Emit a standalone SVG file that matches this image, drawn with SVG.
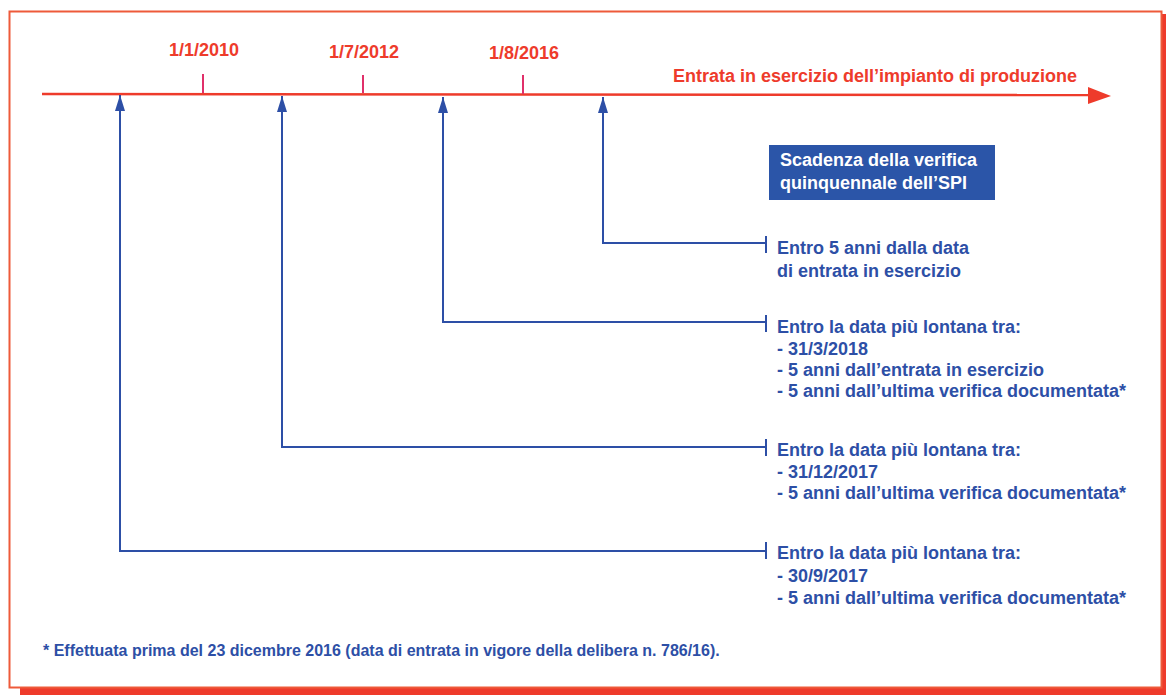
<svg xmlns="http://www.w3.org/2000/svg" width="1166" height="695" viewBox="0 0 1166 695">
<defs>
<style>
.red{font-family:"Liberation Sans",Arial,sans-serif;font-weight:bold;fill:#ee3b2b;}
.blue{font-family:"Liberation Sans",Arial,sans-serif;font-weight:bold;fill:#2d4fa6;font-size:18px;}
.white{font-family:"Liberation Sans",Arial,sans-serif;font-weight:bold;fill:#ffffff;font-size:18px;}
.conn{fill:none;stroke:#2d4fa6;stroke-width:2;}
.bar{stroke:#2d4fa6;stroke-width:2;}
.tick{stroke:#e0306a;stroke-width:2;}
</style>
<marker id="up" viewBox="0 0 16 10" refX="16" refY="5" markerWidth="16" markerHeight="10" markerUnits="userSpaceOnUse" orient="auto">
<path d="M0,0 L16,5 L0,10 Z" fill="#2d4fa6"/>
</marker>
</defs>
<rect width="1166" height="695" fill="#ffffff"/>
<g id="frame">
<rect x="20" y="688" width="1146" height="7" fill="#ee3b2b"/>
<rect x="1161" y="14" width="5" height="681" fill="#ee3b2b"/>
<rect x="9.5" y="11.5" width="1152" height="676" fill="none" stroke="#ee5a3a" stroke-width="2"/>
</g>
<g id="timeline">
<line x1="42" y1="94" x2="1092" y2="95" stroke="#ee3b2b" stroke-width="2.5"/>
<path d="M1088,87 L1111,96 L1088,104 Z" fill="#ee3b2b"/>
<line class="tick" x1="203" y1="74" x2="203" y2="93"/>
<line class="tick" x1="363" y1="75" x2="363" y2="93"/>
<line class="tick" x1="523" y1="75" x2="523" y2="94"/>
<text class="red" x="204" y="56" font-size="18" text-anchor="middle">1/1/2010</text>
<text class="red" x="364" y="58" font-size="18" text-anchor="middle">1/7/2012</text>
<text class="red" x="524" y="59" font-size="18" text-anchor="middle">1/8/2016</text>
<text class="red" x="673" y="82" font-size="18">Entrata in esercizio dell’impianto di produzione</text>
</g>
<g id="connectors">
<path class="conn" d="M765,243 H603 V97" marker-end="url(#up)"/>
<path class="conn" d="M765,322 H443 V97" marker-end="url(#up)"/>
<path class="conn" d="M765,447 H282 V96" marker-end="url(#up)"/>
<path class="conn" d="M765,551 H120 V95" marker-end="url(#up)"/>
<line class="bar" x1="766" y1="236" x2="766" y2="253"/>
<line class="bar" x1="766" y1="315" x2="766" y2="332"/>
<line class="bar" x1="766" y1="439" x2="766" y2="456"/>
<line class="bar" x1="766" y1="542" x2="766" y2="559"/>
</g>
<g id="legend">
<rect x="769" y="145" width="226" height="55" fill="#2b55a8"/>
<text class="white" x="780" y="166">Scadenza della verifica</text>
<text class="white" x="780" y="189">quinquennale dell’SPI</text>
</g>
<g id="node1">
<text class="blue" x="777" y="254">Entro 5 anni dalla data</text>
<text class="blue" x="777" y="277">di entrata in esercizio</text>
</g>
<g id="node2">
<text class="blue" x="777" y="333">Entro la data più lontana tra:</text>
<text class="blue" x="777" y="355">- 31/3/2018</text>
<text class="blue" x="777" y="376">- 5 anni dall’entrata in esercizio</text>
<text class="blue" x="777" y="397">- 5 anni dall’ultima verifica documentata*</text>
</g>
<g id="node3">
<text class="blue" x="777" y="456">Entro la data più lontana tra:</text>
<text class="blue" x="777" y="478">- 31/12/2017</text>
<text class="blue" x="777" y="499">- 5 anni dall’ultima verifica documentata*</text>
</g>
<g id="node4">
<text class="blue" x="777" y="559">Entro la data più lontana tra:</text>
<text class="blue" x="777" y="582">- 30/9/2017</text>
<text class="blue" x="777" y="604">- 5 anni dall’ultima verifica documentata*</text>
</g>
<g id="footnote">
<text class="blue" x="43" y="656" style="font-size:16px">* Effettuata prima del 23 dicembre 2016 (data di entrata in vigore della delibera n. 786/16).</text>
</g>
</svg>
